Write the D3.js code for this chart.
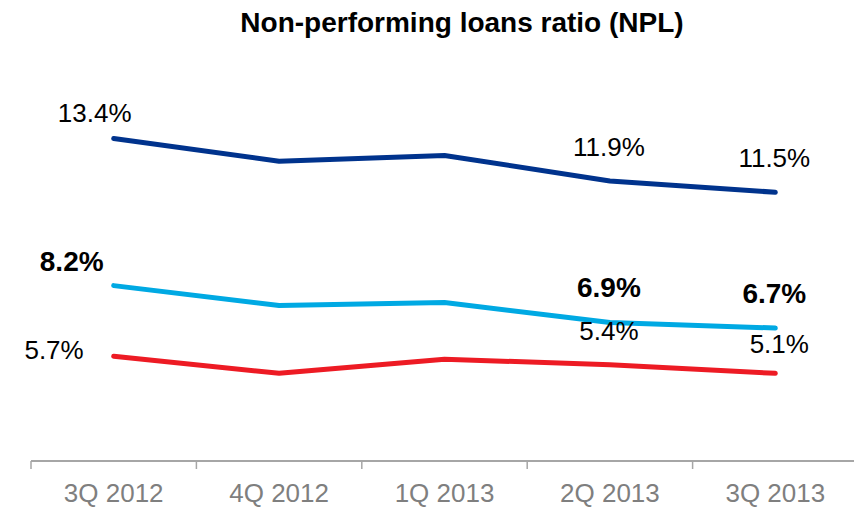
<!DOCTYPE html>
<html>
<head>
<meta charset="utf-8">
<script src="https://cdn.jsdelivr.net/npm/d3@7"></script>
<style>
    body { margin: 0; background: #fff; }
    svg { display: block; font-family: 'Liberation Sans', Arial, sans-serif; }
</style>
</head>
<body>
<div class="chart-container"></div>
<script>
const quarters = ['3Q 2012', '4Q 2012', '1Q 2013', '2Q 2013', '3Q 2013'];
const groupNpl = [13.4, 12.6, 12.8, 11.9, 11.5];
const bankNpl = [8.2, 7.5, 7.6, 6.9, 6.7];
const retailNpl = [5.7, 5.1, 5.6, 5.4, 5.1];
const labelledPoints = [0, 3, 4];

const width = 854;
const height = 509;

const series = [
    { key: 'group', values: groupNpl, color: '#00338d', bold: false },
    { key: 'bank', values: bankNpl, color: '#00a9e3', bold: true },
    { key: 'retail', values: retailNpl, color: '#ed1b24', bold: false }
];

const svg = d3.select('.chart-container')
    .append('svg')
    .attr('width', width)
    .attr('height', height);

const x = d3.scaleBand()
    .domain(quarters)
    .range([31, 858])
    .paddingInner(0)
    .paddingOuter(0);

const y = d3.scaleLinear()
    .domain([2, 16])
    .range([461, 65]);

const cx = d => x(d) + x.bandwidth() / 2;

svg.append('text')
    .attr('x', 462)
    .attr('y', 32)
    .attr('text-anchor', 'middle')
    .style('font-size', '28px')
    .style('font-weight', 'bold')
    .attr('fill', '#000')
    .text('Non-performing loans ratio (NPL)');

// category axis: line + ticks between the categories
const axis = svg.append('g').attr('class', 'x-axis');
axis.append('line')
    .attr('x1', x.range()[0])
    .attr('x2', x.range()[1])
    .attr('y1', y.range()[0])
    .attr('y2', y.range()[0])
    .attr('stroke', '#a6a6a6')
    .attr('stroke-width', 2);

axis.selectAll('.tick')
    .data(quarters)
    .enter()
    .append('line')
    .attr('class', 'tick')
    .attr('x1', d => x(d))
    .attr('x2', d => x(d))
    .attr('y1', y.range()[0])
    .attr('y2', y.range()[0] + 8)
    .attr('stroke', '#a6a6a6')
    .attr('stroke-width', 1.5);

axis.selectAll('.label')
    .data(quarters)
    .enter()
    .append('text')
    .attr('class', 'label')
    .attr('x', cx)
    .attr('y', 502)
    .attr('text-anchor', 'middle')
    .attr('fill', '#7f7f7f')
    .style('font-size', '26px')
    .text(d => d);

const line = d3.line()
    .x((d, i) => cx(quarters[i]))
    .y(d => y(d));

svg.append('g')
    .attr('class', 'lines')
    .selectAll('path')
    .data(series)
    .enter()
    .append('path')
    .attr('d', d => line(d.values))
    .attr('fill', 'none')
    .attr('stroke', d => d.color)
    .attr('stroke-width', 5)
    .attr('stroke-linecap', 'round')
    .attr('stroke-linejoin', 'round');

// where each label sits relative to its point
function labelPlacement(key, i) {
    if (i === 0) {
        if (key === 'group') return { dx: -19, dy: -17, anchor: 'middle' };
        if (key === 'bank') return { dx: -42, dy: -15, anchor: 'middle' };
        return { dx: -30, dy: 3, anchor: 'end' };
    }
    if (key === 'retail' && i === 4) return { dx: 4, dy: -20, anchor: 'middle' };
    return { dx: -1, dy: -25, anchor: 'middle' };
}

const labels = [];
series.forEach(s => {
    labelledPoints.forEach(i => {
        labels.push({ key: s.key, i, value: s.values[i], bold: s.bold });
    });
});

svg.append('g')
    .attr('class', 'data-labels')
    .selectAll('text')
    .data(labels)
    .enter()
    .append('text')
    .each(function (d) {
        const p = labelPlacement(d.key, d.i);
        d3.select(this)
            .attr('x', cx(quarters[d.i]) + p.dx)
            .attr('y', y(d.value) + p.dy)
            .attr('text-anchor', p.anchor);
    })
    .attr('fill', '#000')
    .style('font-size', d => d.bold ? '28px' : '26px')
    .style('font-weight', d => d.bold ? 'bold' : 'normal')
    .text(d => `${d.value.toFixed(1)}%`);
</script>
</body>
</html>
